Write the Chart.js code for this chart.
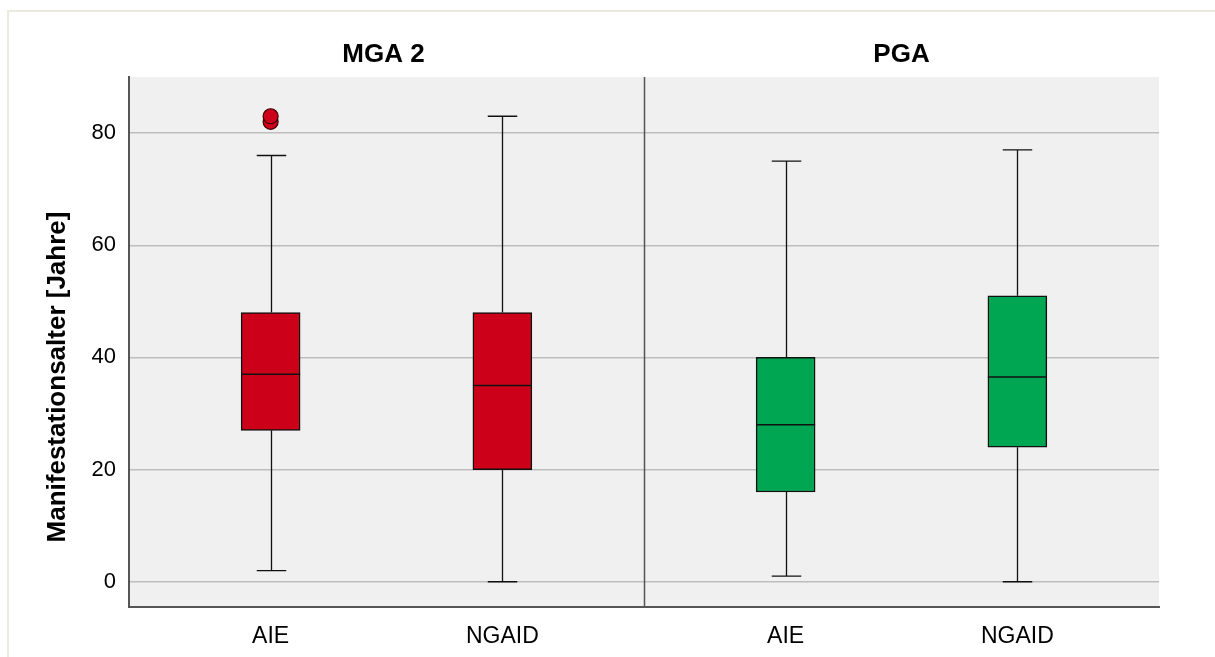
<!DOCTYPE html>
<html>
<head>
<meta charset="utf-8">
<script src="https://cdn.jsdelivr.net/npm/chart.js@4.4.1/dist/chart.umd.min.js"></script>
<style>
  html, body { margin: 0; padding: 0; background: #ffffff; }
  canvas { display: block; }
</style>
</head>
<body>
<canvas id="chart" width="1215" height="657"></canvas>
<script>
// Panels and the two groups shown in each
const groups = ['MGA 2', 'PGA'];
const categories = ['AIE', 'NGAID', 'AIE', 'NGAID'];
const panelOf = [0, 0, 1, 1];
const slotOf = [0, 1, 0, 1];

// Box plot statistics (age at manifestation, years)
const whiskerLow = [2, 0, 1, 0];
const q1 = [27, 20, 16, 24];
const median = [37, 35, 28, 36.5];
const q3 = [48, 48, 40, 51];
const whiskerHigh = [76, 83, 75, 77];
const outliers = [[82, 83], [], [], []];

const yTicks = [0, 20, 40, 60, 80];
const boxColors = ['#CC0018', '#CC0018', '#00A651', '#00A651'];

// Each panel spans one unit of the x scale; boxes sit at fixed slots inside it
const slotCenter = [0.275, 0.725];
const xPos = categories.map((c, i) => panelOf[i] + slotCenter[slotOf[i]]);

const boxData = xPos.map((x, i) => ({ x: x, y: [q1[i], q3[i]] }));
const outlierData = [];
outliers.forEach((vals, i) => vals.forEach(v => outlierData.push({ x: xPos[i], y: v })));

const FONT = "'Liberation Sans', Arial, sans-serif";

const boxPlotPlugin = {
  id: 'boxPlot',
  beforeDraw(chart) {
    const { ctx, chartArea: a } = chart;
    ctx.save();
    // page frame
    ctx.strokeStyle = '#ECE9DD';
    ctx.lineWidth = 2;
    ctx.beginPath();
    ctx.moveTo(8, 657);
    ctx.lineTo(8, 11);
    ctx.lineTo(1215, 11);
    ctx.stroke();
    // plot background
    ctx.fillStyle = '#F0F0F0';
    ctx.fillRect(a.left, a.top, a.right - a.left, a.bottom - a.top);
    ctx.restore();
  },
  beforeDatasetsDraw(chart) {
    const { ctx, chartArea: a, scales: { x, y } } = chart;
    const meta = chart.getDatasetMeta(0);
    ctx.save();
    // divider between the two panels
    ctx.strokeStyle = '#555555';
    ctx.lineWidth = 1.5;
    for (let p = 1; p < groups.length; p++) {
      const px = Math.round(x.getPixelForValue(p)) + 0.5;
      ctx.beginPath();
      ctx.moveTo(px, a.top);
      ctx.lineTo(px, a.bottom);
      ctx.stroke();
    }
    // whiskers and caps
    ctx.strokeStyle = '#111111';
    ctx.lineWidth = 1.3;
    meta.data.forEach((bar, i) => {
      const cx = Math.round(bar.x) + 0.5;
      const capHalf = bar.width / 4;
      const yHi = y.getPixelForValue(whiskerHigh[i]);
      const yLo = y.getPixelForValue(whiskerLow[i]);
      ctx.beginPath();
      ctx.moveTo(cx, y.getPixelForValue(q3[i]));
      ctx.lineTo(cx, yHi);
      ctx.moveTo(cx, y.getPixelForValue(q1[i]));
      ctx.lineTo(cx, yLo);
      ctx.moveTo(cx - capHalf, yHi);
      ctx.lineTo(cx + capHalf, yHi);
      ctx.moveTo(cx - capHalf, yLo);
      ctx.lineTo(cx + capHalf, yLo);
      ctx.stroke();
    });
    ctx.restore();
  },
  afterDatasetsDraw(chart) {
    const { ctx, scales: { y } } = chart;
    const meta = chart.getDatasetMeta(0);
    ctx.save();
    ctx.strokeStyle = '#111111';
    ctx.lineWidth = 1.5;
    meta.data.forEach((bar, i) => {
      const my = y.getPixelForValue(median[i]);
      ctx.beginPath();
      ctx.moveTo(bar.x - bar.width / 2, my);
      ctx.lineTo(bar.x + bar.width / 2, my);
      ctx.stroke();
    });
    ctx.restore();
  },
  afterDraw(chart) {
    const { ctx, scales: { x } } = chart;
    ctx.save();
    ctx.fillStyle = '#000000';
    // panel headers
    ctx.font = 'bold 26px ' + FONT;
    ctx.textAlign = 'center';
    ctx.textBaseline = 'alphabetic';
    groups.forEach((g, p) => {
      ctx.fillText(g, x.getPixelForValue(p + 0.5) - (p === 0 ? 3 : 0), 62);
    });
    // y axis title
    ctx.translate(65, 377);
    ctx.rotate(-Math.PI / 2);
    ctx.fillText('Manifestationsalter [Jahre]', 0, 0);
    ctx.restore();
  }
};

new Chart(document.getElementById('chart'), {
  type: 'bar',
  data: {
    datasets: [
      {
        type: 'bar',
        data: boxData,
        backgroundColor: boxColors,
        borderColor: '#111111',
        borderWidth: 1.5,
        borderSkipped: false,
        barThickness: 59,
        order: 2
      },
      {
        type: 'scatter',
        data: outlierData,
        pointRadius: 7.5,
        pointBackgroundColor: '#CC0018',
        pointBorderColor: '#3a0006',
        pointBorderWidth: 1.2,
        order: 1
      }
    ]
  },
  options: {
    responsive: false,
    animation: false,
    events: [],
    layout: { padding: { left: 0, right: 56, top: 77, bottom: 0 } },
    plugins: { legend: { display: false }, tooltip: { enabled: false } },
    scales: {
      x: {
        type: 'linear',
        min: 0,
        max: groups.length,
        offset: false,
        afterFit(scale) { scale.height = 50; },
        afterBuildTicks(scale) { scale.ticks = xPos.map(v => ({ value: v })); },
        ticks: {
          autoSkip: false,
          maxRotation: 0,
          padding: 16,
          color: '#000000',
          font: { family: FONT, size: 23 },
          callback(value, index) { return categories[index]; }
        },
        grid: { display: false, drawTicks: false },
        border: { display: true, color: '#555555', width: 2 }
      },
      y: {
        type: 'linear',
        min: -4.5,
        max: 90,
        afterFit(scale) { scale.width = 129; },
        afterBuildTicks(scale) { scale.ticks = yTicks.map(v => ({ value: v })); },
        ticks: {
          padding: 13,
          color: '#000000',
          font: { family: FONT, size: 22 }
        },
        grid: { color: '#BDBDBD', lineWidth: 1.5, drawTicks: false },
        border: { display: true, color: '#555555', width: 2 }
      }
    }
  },
  plugins: [boxPlotPlugin]
});
</script>
</body>
</html>
